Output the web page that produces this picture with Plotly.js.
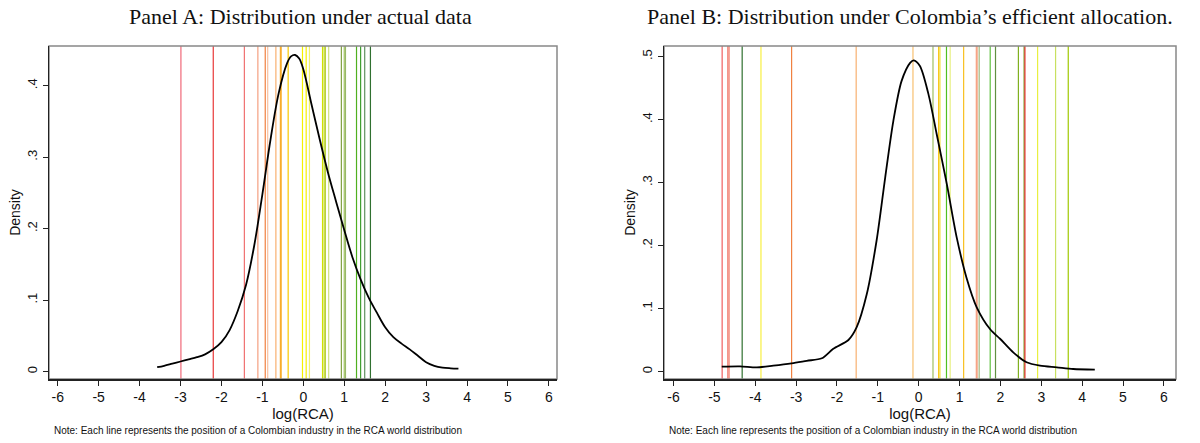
<!DOCTYPE html>
<html>
<head>
<meta charset="utf-8">
<script src="https://cdn.plot.ly/plotly-3.0.1.min.js"></script>
<style>html,body{margin:0;padding:0;background:#fff;}#chart{width:1200px;height:443px;}</style>
</head>
<body>
<div id="chart"></div>
<script>
// ---- Data ----
const panelTitles = ["Panel A: Distribution under actual data", "Panel B: Distribution under Colombia\u2019s efficient allocation."];
const noteText = "Note: Each line represents the position of a Colombian industry in the RCA world distribution";
const xTickVals = [-6,-5,-4,-3,-2,-1,0,1,2,3,4,5,6];
const xTickText = ["-6","-5","-4","-3","-2","-1","0","1","2","3","4","5","6"];
const yTickValsA = [0,0.1,0.2,0.3,0.4];
const yTickTextA = ["0",".1",".2",".3",".4"];
const yTickValsB = [0,0.1,0.2,0.3,0.4,0.5];
const yTickTextB = ["0",".1",".2",".3",".4",".5"];

// Panel A density curve
const curveAx = [-3.57,-3.4,-3.2,-3.0,-2.8,-2.6,-2.4,-2.2,-2.0,-1.8,-1.6,-1.4,-1.2,-1.0,-0.8,-0.6,-0.4,-0.3,-0.2,-0.1,0.0,0.2,0.4,0.6,0.8,1.0,1.2,1.4,1.6,1.8,2.0,2.2,2.4,2.6,2.8,3.0,3.2,3.4,3.6,3.79];
const curveAy = [0.006,0.008,0.011,0.014,0.017,0.020,0.024,0.031,0.041,0.058,0.085,0.121,0.176,0.248,0.325,0.390,0.431,0.441,0.443,0.438,0.423,0.374,0.325,0.279,0.238,0.198,0.160,0.129,0.103,0.082,0.062,0.048,0.039,0.031,0.022,0.013,0.008,0.0055,0.0045,0.004];

// Panel B density curve
const curveBx = [-4.82,-4.37,-3.96,-3.56,-3.11,-2.74,-2.37,-2.09,-1.72,-1.52,-1.27,-1.03,-0.82,-0.62,-0.42,-0.21,-0.12,0.03,0.24,0.44,0.69,0.93,1.17,1.42,1.75,1.99,2.32,2.64,2.97,3.38,3.78,4.31];
const curveBy = [0.0077,0.0082,0.0066,0.0093,0.013,0.017,0.021,0.036,0.050,0.070,0.123,0.208,0.308,0.398,0.461,0.490,0.494,0.485,0.440,0.377,0.297,0.213,0.149,0.102,0.067,0.052,0.030,0.0146,0.0092,0.0066,0.0040,0.0029];

// Industry positions (vertical lines) and their colours
const linesAx = [-2.99,-2.20,-1.44,-1.11,-0.93,-0.87,-0.67,-0.56,-0.54,-0.37,-0.02,0.07,0.15,0.47,0.51,0.54,0.62,0.93,1.00,1.03,1.30,1.40,1.50,1.64];
const linesAc = ["#f06878","#e83838","#f07070","#f4a080","#f08040","#f8c0a0","#f8b070","#f8a828","#f8b030","#f8c800","#f4f000","#f8f000","#f0f070","#d0e000","#c0d820","#b8d040","#d0e080","#80a040","#a0c060","#98b868","#50b020","#40a030","#609060","#307030"];
const linesBx = [-4.81,-4.67,-4.64,-4.32,-3.86,-3.11,-1.53,-0.14,0.35,0.49,0.52,0.68,0.77,1.10,1.41,1.43,1.48,1.75,1.88,2.44,2.58,2.60,2.91,3.35,3.66];
const linesBc = ["#f06060","#f07060","#f08070","#307030","#f8f040","#f08040","#f8b070","#f8c070","#a0c060","#f8c000","#f0e040","#50c020","#e8f080","#f8c020","#f8a080","#f4a080","#a0b880","#60c040","#609040","#80b020","#70a020","#e83030","#e8f040","#c8e060","#a0c800"];

// ---- Layout ----
const yDom = [1 - 379/443, 1 - 46/443];
const axisFont = {family: "Liberation Sans, Arial, sans-serif", size: 14, color: "#111"};

function xaxis(domain, range, anchor) {
  return {domain: domain, range: range, anchor: anchor, tickmode: "array", tickvals: xTickVals, ticktext: xTickText,
    ticks: "outside", ticklen: 5, tickwidth: 1, tickcolor: "#222", showgrid: false, zeroline: false,
    showline: true, linecolor: "#222", linewidth: 1.5, tickfont: axisFont,
    title: {text: "log(RCA)", font: {family: "Liberation Sans, Arial, sans-serif", size: 15, color: "#111"}, standoff: 1}};
}
function yaxis(range, vals, text, anchor) {
  return {domain: yDom, range: range, anchor: anchor, tickmode: "array", tickvals: vals, ticktext: text,
    ticks: "outside", ticklen: 5, tickwidth: 1, tickcolor: "#222", showgrid: false, zeroline: false,
    showline: true, linecolor: "#222", linewidth: 1.5, tickangle: -90, tickfont: {family: "Liberation Sans, Arial, sans-serif", size: 13, color: "#111"},
    title: {text: "Density", font: {family: "Liberation Sans, Arial, sans-serif", size: 14, color: "#111"}, standoff: 1}};
}

const shapes = [];
linesAx.forEach((v, i) => shapes.push({type: "line", xref: "x", yref: "y domain", x0: v, x1: v, y0: 0, y1: 1, layer: "below", line: {color: linesAc[i], width: 1.2}}));
linesBx.forEach((v, i) => shapes.push({type: "line", xref: "x2", yref: "y2 domain", x0: v, x1: v, y0: 0, y1: 1, layer: "below", line: {color: linesBc[i], width: 1.2}}));
// outer frame (grey top/right)
shapes.push({type: "rect", xref: "x domain", yref: "y domain", x0: 0, x1: 1, y0: 0, y1: 1, line: {color: "#888", width: 1.5}, layer: "below"});
shapes.push({type: "rect", xref: "x2 domain", yref: "y2 domain", x0: 0, x1: 1, y0: 0, y1: 1, line: {color: "#888", width: 1.5}, layer: "below"});

const serif = {family: "Liberation Serif, DejaVu Serif, serif", size: 22, color: "#111"};
const noteFont = {family: "Liberation Sans, Arial, sans-serif", size: 10, color: "#111"};

const layout = {
  width: 1200, height: 443, margin: {l: 0, r: 0, t: 0, b: 0},
  paper_bgcolor: "#fff", plot_bgcolor: "#fff", showlegend: false,
  xaxis: xaxis([49/1200, 557/1200], [-6.213, 6.198], "y"),
  yaxis: yaxis([-0.0105, 0.4556], yTickValsA, yTickTextA, "x"),
  xaxis2: xaxis([664/1200, 1176/1200], [-6.233, 6.297], "y2"),
  yaxis2: yaxis([-0.0119, 0.5168], yTickValsB, yTickTextB, "x2"),
  shapes: shapes,
  annotations: [
    {text: panelTitles[0], xref: "paper", yref: "paper", x: 300/1200, y: 1 - 17/443, xanchor: "center", yanchor: "middle", showarrow: false, font: serif},
    {text: panelTitles[1], xref: "paper", yref: "paper", x: 910/1200, y: 1 - 17/443, xanchor: "center", yanchor: "middle", showarrow: false, font: serif},
    {text: noteText, xref: "paper", yref: "paper", x: 52/1200, y: 1 - 430/443, xanchor: "left", yanchor: "middle", showarrow: false, font: noteFont},
    {text: noteText, xref: "paper", yref: "paper", x: 667/1200, y: 1 - 430/443, xanchor: "left", yanchor: "middle", showarrow: false, font: noteFont}
  ]
};

const data = [
  {x: curveAx, y: curveAy, xaxis: "x", yaxis: "y", type: "scatter", mode: "lines", line: {color: "#000", width: 1.8, shape: "spline", smoothing: 1}, hoverinfo: "skip"},
  {x: curveBx, y: curveBy, xaxis: "x2", yaxis: "y2", type: "scatter", mode: "lines", line: {color: "#000", width: 1.8, shape: "spline", smoothing: 0.8}, hoverinfo: "skip"}
];

Plotly.newPlot("chart", data, layout, {staticPlot: true, displayModeBar: false});
</script>
</body>
</html>
